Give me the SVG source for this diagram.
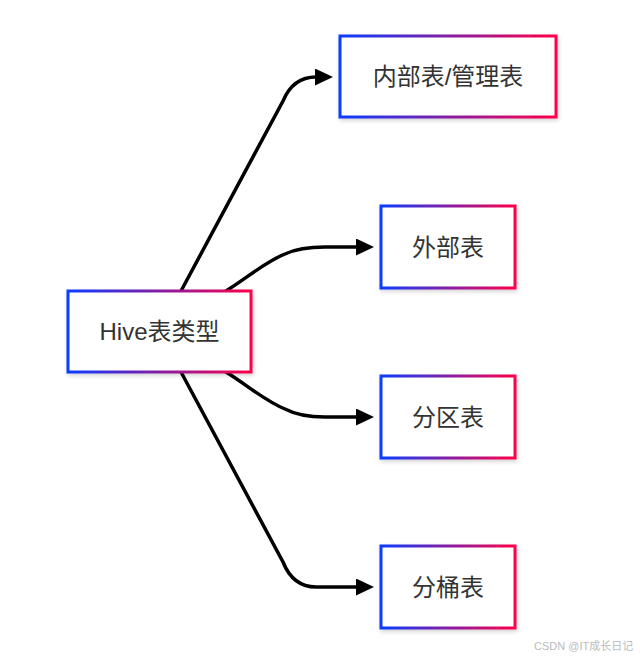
<svg xmlns="http://www.w3.org/2000/svg" width="640" height="658" viewBox="0 0 640 658">
<style>
.box{fill:#fff;stroke:url(#g);stroke-width:3;filter:url(#sh)}
.lbl{font-family:"Liberation Sans","Noto Sans CJK SC",sans-serif;font-size:24px;fill:#333;text-anchor:middle;dominant-baseline:central}
.edge{fill:none;stroke:#000;stroke-width:3.5;stroke-linecap:round}
.wm{font-family:"Liberation Sans","Noto Sans CJK SC",sans-serif;font-size:11px;fill:#bbb}
</style>
<defs>
<linearGradient id="g" x1="0" y1="0" x2="1" y2="0" gradientUnits="objectBoundingBox">
<stop offset="0" stop-color="#0a3cff"/>
<stop offset="1" stop-color="#ff0048"/>
</linearGradient>
<filter id="sh" x="-10%" y="-10%" width="130%" height="140%">
<feDropShadow dx="1" dy="2" stdDeviation="2" flood-color="#000" flood-opacity="0.18"/>
</filter>
<marker id="ar" markerUnits="userSpaceOnUse" markerWidth="20" markerHeight="18" refX="1" refY="8.5" orient="auto">
<path d="M0,0 L18,8.5 L0,17 z" fill="#000"/>
</marker>
</defs>
<g id="connectors">
<path class="edge" marker-end="url(#ar)" d="M181,291 L283,101 Q293,77 316,77"/>
<path class="edge" marker-end="url(#ar)" d="M226,291 C250,276 265,262 285,254 Q300,247 325,247 L357,247"/>
<path class="edge" marker-end="url(#ar)" d="M226,372 C250,387 265,401 285,409 Q300,417 325,417 L357,417"/>
<path class="edge" marker-end="url(#ar)" d="M181,372 L283,562 Q293,587 316,587 L357,587"/>
</g>
<g id="hive">
<rect class="box" x="68" y="291" width="183" height="81"/>
<text class="lbl" x="159.5" y="331.5">Hive表类型</text>
</g>
<g id="internal">
<rect class="box" x="340" y="36" width="216" height="81"/>
<text class="lbl" x="448" y="76.5">内部表/管理表</text>
</g>
<g id="external">
<rect class="box" x="381" y="206" width="134" height="82"/>
<text class="lbl" x="448" y="247">外部表</text>
</g>
<g id="partition">
<rect class="box" x="381" y="376" width="134" height="82"/>
<text class="lbl" x="448" y="417">分区表</text>
</g>
<g id="bucket">
<rect class="box" x="381" y="546" width="134" height="82"/>
<text class="lbl" x="448" y="587">分桶表</text>
</g>
<text class="wm" x="534" y="650">CSDN @IT成长日记</text>
</svg>
